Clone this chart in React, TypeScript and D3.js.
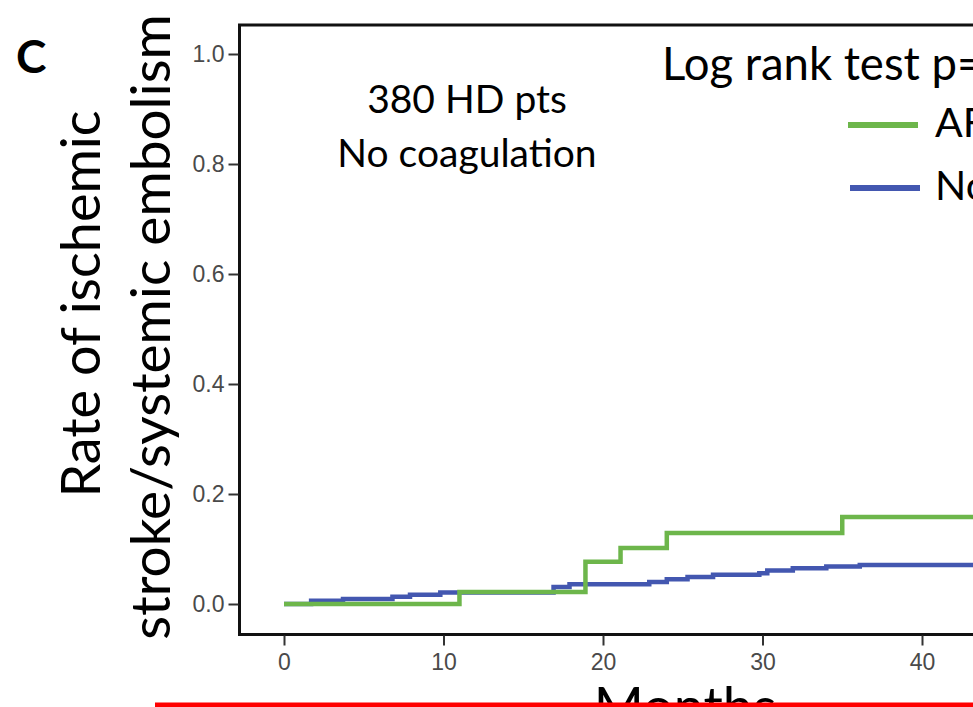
import { useEffect, useRef } from "react";
import * as d3 from "d3";

// Kaplan-Meier style step curves (month, cumulative rate)
const afMonths = [0, 11, 18.9, 21.1, 24, 35, 46];
const afRates = [0, 0.022, 0.077, 0.102, 0.129, 0.158, 0.158];
const nonAfMonths = [0, 1.7, 3.7, 6.8, 7.9, 9.8, 16.9, 17.9, 22.9, 24, 25.3, 26.9, 29.8, 30.3, 31.9, 34, 36.1, 46];
const nonAfRates = [0, 0.006, 0.009, 0.013, 0.017, 0.021, 0.031, 0.036, 0.04, 0.045, 0.049, 0.053, 0.056, 0.061, 0.065, 0.068, 0.071, 0.071];
const xTicks = [0, 10, 20, 30, 40];
const yTicks = [0, 0.2, 0.4, 0.6, 0.8, 1.0];
const legendLabels = ["AF", "Non-AF"];
const seriesColors = ["#6db64b", "#4357b0"];

const W = 973;
const H = 707;
const textFont = "Lato, 'Open Sans', sans-serif";
const tickFont = "'Liberation Sans', Arial, sans-serif";

function App() {
    const svgRef = useRef<SVGSVGElement>(null);

    useEffect(() => {
        const svg = d3.select(svgRef.current);
        svg.selectAll("*").remove();

        // scales
        const x = d3.scaleLinear().domain([0, 40]).range([284, 922]);
        const y = d3.scaleLinear().domain([0, 1]).range([604, 54]);

        const left = 239.5, top = 25, bottom = 634.5;

        // frame (right side runs off the picture)
        svg.append("path")
            .attr("d", `M${W + 20},${top}H${left}V${bottom}H${W + 20}`)
            .attr("fill", "none")
            .attr("stroke", "#111")
            .attr("stroke-width", 3);

        // y axis
        const yAxis = svg.append("g")
            .attr("transform", `translate(${left - 1},0)`)
            .call(d3.axisLeft(y).tickValues(yTicks).tickFormat(d3.format(".1f")).tickSize(10).tickPadding(4));
        yAxis.attr("font-size", 23).attr("font-family", tickFont);
        yAxis.select(".domain").remove();
        yAxis.selectAll("line").attr("stroke", "#333").attr("stroke-width", 2);
        yAxis.selectAll("text").attr("fill", "#4a4a4a");

        // x axis
        const xAxis = svg.append("g")
            .attr("transform", `translate(0,${bottom + 1})`)
            .call(d3.axisBottom(x).tickValues(xTicks).tickSize(10).tickPadding(8));
        xAxis.attr("font-size", 23).attr("font-family", tickFont);
        xAxis.select(".domain").remove();
        xAxis.selectAll("line").attr("stroke", "#333").attr("stroke-width", 2);
        xAxis.selectAll("text").attr("fill", "#4a4a4a");

        // step curves
        const line = d3.line<[number, number]>()
            .x(d => x(d[0]))
            .y(d => y(d[1]))
            .curve(d3.curveStepAfter);

        const nonAf = nonAfMonths.map((m, i) => [m, nonAfRates[i]] as [number, number]);
        const af = afMonths.map((m, i) => [m, afRates[i]] as [number, number]);

        svg.append("path")
            .attr("d", line(nonAf))
            .attr("fill", "none")
            .attr("stroke", seriesColors[1])
            .attr("stroke-width", 4.5);
        svg.append("path")
            .attr("d", line(af))
            .attr("fill", "none")
            .attr("stroke", seriesColors[0])
            .attr("stroke-width", 4.5);

        // annotation
        const note = svg.append("text")
            .attr("text-anchor", "middle")
            .style("font-family", textFont)
            .style("font-size", "39px")
            .attr("fill", "#000");
        note.append("tspan").attr("x", 467).attr("y", 113).text("380 HD pts");
        note.append("tspan").attr("x", 467).attr("y", 167).text("No coagulation");

        svg.append("text")
            .attr("x", 662)
            .attr("y", 80)
            .style("font-family", textFont)
            .style("font-size", "45.5px")
            .attr("fill", "#000")
            .text("Log rank test p=");

        // legend
        const legendY = [125, 188];
        legendLabels.forEach((lab, i) => {
            svg.append("line")
                .attr("x1", 848 + i * 2).attr("x2", 918 + i * 2)
                .attr("y1", legendY[i]).attr("y2", legendY[i])
                .attr("stroke", seriesColors[i])
                .attr("stroke-width", 6);
            svg.append("text")
                .attr("x", 935)
                .attr("y", legendY[i] + 12)
                .style("font-family", textFont)
                .style("font-size", "41px")
                .attr("fill", "#000")
                .text(lab);
        });

        // axis titles
        svg.append("text")
            .attr("transform", "translate(100,304) rotate(-90)")
            .attr("text-anchor", "middle")
            .style("font-family", textFont)
            .style("font-size", "54px")
            .attr("fill", "#000")
            .text("Rate of ischemic");
        svg.append("text")
            .attr("transform", "translate(170,327) rotate(-90)")
            .attr("text-anchor", "middle")
            .style("font-family", textFont)
            .style("font-size", "55px")
            .attr("fill", "#000")
            .text("stroke/systemic embolism");
        svg.append("text")
            .attr("x", 685)
            .attr("y", 726)
            .attr("text-anchor", "middle")
            .style("font-family", textFont)
            .style("font-size", "54px")
            .attr("fill", "#000")
            .text("Months");

        // panel letter
        svg.append("text")
            .attr("x", 16)
            .attr("y", 73)
            .style("font-family", textFont)
            .style("font-size", "46px")
            .style("font-weight", "bold")
            .attr("fill", "#000")
            .text("C");

        // red box edge at the bottom
        svg.append("rect")
            .attr("x", 155)
            .attr("y", 702.5)
            .attr("width", W)
            .attr("height", 10)
            .attr("fill", "#ff0000");
    }, []);

    return (
        <svg
            ref={svgRef}
            width={W}
            height={H}
            style={{ position: "absolute", left: 0, top: 0, display: "block", background: "#fff" }}
        />
    );
}

export default App;
